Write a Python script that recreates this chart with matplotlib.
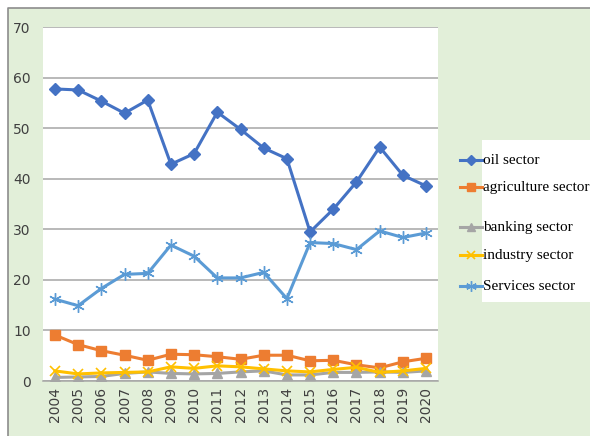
import matplotlib
matplotlib.use('Agg')
import matplotlib.pyplot as plt
from matplotlib.lines import Line2D
from matplotlib.patches import Rectangle
import numpy as np

years = [str(y) for y in range(2004, 2021)]
oil = [57.8, 57.6, 55.4, 53.0, 55.6, 42.9, 45.0, 53.2, 49.8, 46.1, 44.0,
       29.5, 34.0, 39.4, 46.3, 40.7, 38.6]
agriculture = [9.1, 7.2, 6.0, 5.1, 4.1, 5.3, 5.2, 4.8, 4.3, 5.1, 5.1,
               4.0, 4.1, 3.2, 2.6, 3.8, 4.5]
banking = [0.7, 0.8, 0.9, 1.5, 1.8, 1.5, 1.4, 1.5, 1.8, 2.0, 1.2,
           1.2, 1.7, 1.7, 1.8, 1.7, 2.0]
industry = [2.0, 1.4, 1.6, 1.7, 1.8, 2.8, 2.5, 3.0, 2.8, 2.4, 2.0,
            1.8, 2.3, 2.7, 1.7, 2.0, 2.5]
services = [16.2, 14.9, 18.3, 21.1, 21.3, 26.9, 24.7, 20.4, 20.4, 21.5, 16.3,
            27.4, 27.2, 26.0, 29.7, 28.4, 29.3]
labels = ['oil sector', 'agriculture sector', 'banking sector',
          'industry sector', 'Services sector']

W, H = 590, 436
asterisk = (6, 2, 0)
styles = [
    dict(color='#4472c4', marker='D', ms=6),
    dict(color='#ed7d31', marker='s', ms=6.5),
    dict(color='#a5a5a5', marker='^', ms=7),
    dict(color='#ffc000', marker='x', ms=7, mew=1.2),
    dict(color='#5b9bd5', marker=asterisk, ms=9, mew=1.0),
]
series = [oil, agriculture, banking, industry, services]


def px(x, y):
    # Pixelkoordinaten (oben links) -> Figure-Koordinaten
    return x / W, 1 - y / H


fig = plt.figure(figsize=(W / 100, H / 100), dpi=100)
fig.patch.set_facecolor('white')

# grüner Hintergrund, grauer Rahmen nur oben und links
x0, y0 = px(8, 436)
x1, y1 = px(590, 8)
fig.add_artist(Rectangle((x0, y0), x1 - x0, y1 - y0, transform=fig.transFigure,
                         facecolor='#e2efd9', edgecolor='none', zorder=-2))
fig.add_artist(Line2D([x0, x0, 1], [0, y1, y1], transform=fig.transFigure,
                      color='#8c8c8c', linewidth=1.2, zorder=-1))

l, b = px(43.3, 381)
r, t = px(437.7, 27.3)
ax = fig.add_axes([l, b, r - l, t - b])
ax.set_facecolor('white')

x = np.arange(len(years))
for vals, st in zip(series, styles):
    ax.plot(x, vals, linewidth=2.2, color=st['color'], marker=st['marker'],
            markersize=st['ms'], markeredgewidth=st.get('mew', 1.0),
            markeredgecolor=st['color'], zorder=3)

ax.set_xlim(-0.5, len(years) - 0.5)
ax.set_ylim(0, 70)
ax.set_yticks(range(0, 71, 10))
ax.set_xticks(x)
ax.set_xticklabels(years, rotation=90, fontsize=10, color='#404040')
ax.tick_params(axis='y', labelsize=10, colors='#404040', length=0, pad=9)
ax.tick_params(axis='x', length=0, pad=4)
ax.grid(axis='y', color='#a6a6a6', linewidth=1.1)
ax.set_axisbelow(True)
for s in ['top', 'right', 'left']:
    ax.spines[s].set_visible(False)
ax.spines['bottom'].set_color('#a6a6a6')
ax.spines['bottom'].set_linewidth(1.1)

# Legende: weißes Feld, Symbole links davon
bx, by = px(482, 302)
fig.add_artist(Rectangle((bx, by), 1 - bx, (302 - 140) / H, transform=fig.transFigure,
                         facecolor='white', edgecolor='none', zorder=-1))
ys = [160, 187, 227, 255, 286]
for lab, st, yy in zip(labels, styles, ys):
    xa, ya = px(460, yy)
    xb, _ = px(482, yy)
    fig.add_artist(Line2D([xa, xb], [ya, ya], transform=fig.transFigure,
                          color=st['color'], linewidth=2.2))
    xm, _ = px(471, yy)
    fig.add_artist(Line2D([xm], [ya], transform=fig.transFigure,
                          color=st['color'], marker=st['marker'],
                          markersize=st['ms'] * 0.85,
                          markeredgewidth=st.get('mew', 1.0)))
    tx, ty = px(483, yy)
    fig.text(tx, ty, lab, fontsize=11, family='Liberation Serif',
             ha='left', va='center', color='black')

fig.savefig('out.png', dpi=100)
